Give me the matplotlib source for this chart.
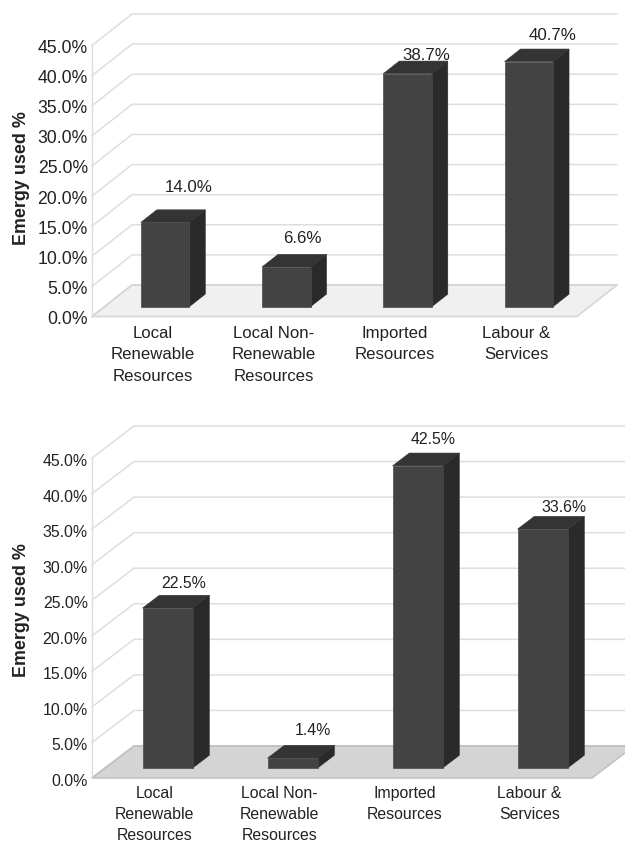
import matplotlib
matplotlib.use("Agg")
import matplotlib.pyplot as plt
from matplotlib.patches import Polygon
from matplotlib.transforms import ScaledTranslation

plt.rcParams["font.family"] = ["Liberation Sans", "DejaVu Sans"]

categories = ["Local\nRenewable\nResources", "Local Non-\nRenewable\nResources",
              "Imported\nResources", "Labour &\nServices"]
values_top = [14.0, 6.6, 38.7, 40.7]
values_bottom = [22.5, 1.4, 42.5, 33.6]
y_ticks = [0, 5, 10, 15, 20, 25, 30, 35, 40, 45]

W, H = 625, 842
GRID = "#dedede"
FRONT, SIDE, TOP = "#434343", "#2a2a2a", "#343434"
BAR_WIDTH = 0.40
BAR_DEPTH = (0.31, 0.71)


def draw_panel(rect, values, depth_px, floor, floor_edge, font, label_offsets,
               x_pad, linespacing, tick_shift, ylabel_y):
    left, right, y_zero, y_max = rect
    ax = plt.axes([left / W, 1 - y_zero / H, (right - left) / W, (y_zero - y_max) / H])
    ax.set_xlim(-0.5, 3.5)
    ax.set_ylim(0, 45)
    ax.patch.set_visible(False)
    for spine in ax.spines.values():
        spine.set_visible(False)

    # Oblique projection: depth 0 is the front plane, depth 1 the back wall.
    dx = depth_px[0] / ((right - left) / 4)
    dy = depth_px[1] / ((y_zero - y_max) / 45)

    def proj(x, y, d):
        return (x + d * dx, y + d * dy)

    def face(points, **kw):
        ax.add_patch(Polygon([proj(*p) for p in points], closed=True,
                             clip_on=False, **kw))

    face([(-0.5, 0, 0), (3.5, 0, 0), (3.5, 0, 1), (-0.5, 0, 1)],
         facecolor=floor, edgecolor=floor_edge, linewidth=1.2, zorder=1)

    for t in y_ticks:
        xs, ys = zip(proj(-0.5, t, 0), proj(-0.5, t, 1), proj(3.5, t, 1))
        ax.plot(xs, ys, color=floor_edge if t == 0 else GRID, lw=1.1,
                clip_on=False, zorder=2, solid_joinstyle="miter")
    ax.plot([-0.5, -0.5], [0, 45], color=GRID, lw=1.0, clip_on=False, zorder=2)

    d0, d1 = BAR_DEPTH
    for i, v in enumerate(values):
        x0, x1 = i - BAR_WIDTH / 2, i + BAR_WIDTH / 2
        face([(x1, 0, d0), (x1, 0, d1), (x1, v, d1), (x1, v, d0)],
             facecolor=SIDE, edgecolor=SIDE, linewidth=0.4, zorder=3)
        face([(x0, v, d0), (x1, v, d0), (x1, v, d1), (x0, v, d1)],
             facecolor=TOP, edgecolor=TOP, linewidth=0.4, zorder=3)
        face([(x0, 0, d0), (x1, 0, d0), (x1, v, d0), (x0, v, d0)],
             facecolor=FRONT, edgecolor="#4a4a4a", linewidth=0.5, zorder=4)
        off = label_offsets[i]
        ax.annotate(f"{v:.1f}%", xy=proj(i, v, d0), xytext=(off[0] * 0.72, off[1] * 0.72),
                    textcoords="offset points", ha="center", va="center",
                    fontsize=font[1], color="#222222", annotation_clip=False, zorder=6)

    ax.set_xticks(range(len(categories)))
    ax.set_xticklabels(categories, fontsize=font[2], color="#222222",
                       linespacing=linespacing)
    ax.set_yticks(y_ticks)
    ax.set_yticklabels([f"{t:.1f}%" for t in y_ticks], fontsize=font[0], color="#222222")
    ax.tick_params(axis="x", length=0, pad=x_pad)
    ax.tick_params(axis="y", length=0, pad=3.0)
    shift = ScaledTranslation(0, -tick_shift / 100, fig.dpi_scale_trans)
    for label in ax.get_yticklabels():
        label.set_transform(label.get_transform() + shift)
    ax.set_ylabel("Emergy used %", fontsize=12.9, fontweight="bold", color="#222222")
    ax.yaxis.set_label_coords((30 - left) / (right - left), ylabel_y)
    return ax


fig = plt.figure(figsize=(W / 100, H / 100), dpi=100, facecolor="white")

draw_panel((92, 577, 316.5, 45.5), values_top, (40, 31.5), "#f0f0f0", "#d6d6d6",
           (12.7, 12.2, 12.1), [(24, 35), (16, 28), (19, 18), (24, 26)], 6.6, 1.55, 1, 0.511)
draw_panel((92, 592, 778, 458), values_bottom, (42, 32), "#d4d4d4", "#c2c2c2",
           (11.4, 11.4, 11.4), [(16, 25), (20, 28), (16, 26), (21, 22)], 5.6, 1.5, 2, 0.525)

fig.savefig("out.png", dpi=100)
